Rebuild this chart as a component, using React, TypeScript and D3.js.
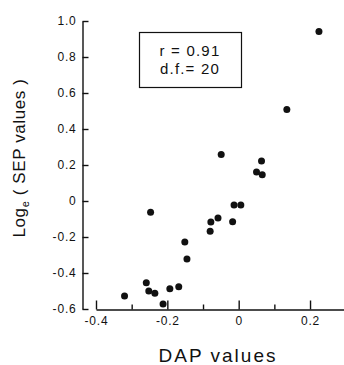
import React, { useEffect, useRef } from 'react';
import * as d3 from 'd3';

// DAP values (x) and log_e SEP values (y)
const dapValues = [
  -0.32, -0.259, -0.252, -0.235, -0.212, -0.247, -0.193, -0.168, -0.151, -0.145, -0.08,
  -0.078, -0.058, -0.049, -0.017, -0.013, 0.006, 0.05, 0.064, 0.066, 0.135, 0.225,
];
const sepValues = [
  -0.528, -0.454, -0.5, -0.513, -0.572, -0.063, -0.487, -0.476, -0.228, -0.322, -0.168,
  -0.117, -0.094, 0.259, -0.115, -0.022, -0.022, 0.161, 0.222, 0.146, 0.509, 0.941,
];
const xMajorTicks = [-0.4, -0.2, 0, 0.2];
const xMinorTicks = [-0.3, -0.1, 0.1];
const yTicks = [-0.6, -0.4, -0.2, 0, 0.2, 0.4, 0.6, 0.8, 1.0];
const statLines = ['r = 0.91', 'd.f.= 20'];

const W = 344;
const H = 365;
const FONT = 'Liberation Sans, Arial, sans-serif';

const fmt = (v: number) => (v === 0 ? '0' : d3.format('.1f')(v).replace('\u2212', '-'));

const App = () => {
  const ref = useRef<SVGSVGElement>(null);

  useEffect(() => {
    const svg = d3.select(ref.current);
    svg.selectAll('*').remove();

    const x = d3.scaleLinear().domain([-0.4, 0.3]).range([96, 345.7]);
    const y = d3.scaleLinear().domain([-0.6, 1.0]).range([309, 21]);

    // y axis, ticks pointing inward
    const gy = svg.append('g').attr('transform', 'translate(82.5,0)')
      .call(d3.axisLeft(y).tickValues(yTicks).tickSizeInner(-6).tickSizeOuter(0)
        .tickPadding(6).tickFormat(d => fmt(+d)));
    gy.selectAll('text').attr('font-size', 12).attr('letter-spacing', 0.8)
      .attr('font-family', FONT).attr('fill', '#111');

    // x axis, major ticks with labels
    const gx = svg.append('g').attr('transform', 'translate(0,309.5)')
      .call(d3.axisBottom(x).tickValues(xMajorTicks).tickSizeInner(-9).tickSizeOuter(0)
        .tickPadding(7).tickFormat(d => fmt(+d)));
    gx.selectAll('text').attr('font-size', 12).attr('letter-spacing', 0.8)
      .attr('font-family', FONT).attr('fill', '#111');
    gx.selectAll('.tick text').attr('y', 7);

    // minor x ticks
    const gm = svg.append('g').attr('transform', 'translate(0,309.5)')
      .call(d3.axisBottom(x).tickValues(xMinorTicks).tickSizeInner(-5).tickSizeOuter(0)
        .tickFormat(() => ''));
    gm.select('.domain').remove();

    svg.selectAll('.domain, .tick line').attr('stroke', '#111').attr('stroke-width', 1.4);

    // points
    svg.append('g').selectAll('circle')
      .data(dapValues.map((d, i) => [d, sepValues[i]]))
      .join('circle')
      .attr('cx', d => x(d[0]))
      .attr('cy', d => y(d[1]))
      .attr('r', 3.5)
      .attr('fill', '#111');

    // stats box
    svg.append('rect')
      .attr('x', 139.5).attr('y', 32.5).attr('width', 102).attr('height', 55)
      .attr('fill', 'none').attr('stroke', '#111').attr('stroke-width', 1.2);
    svg.append('g').selectAll('text')
      .data(statLines)
      .join('text')
      .attr('x', 190)
      .attr('y', (d, i) => 55.5 + i * 18)
      .attr('text-anchor', 'middle')
      .attr('font-family', FONT)
      .attr('font-size', 15)
      .attr('letter-spacing', 1.2)
      .attr('fill', '#111')
      .text(d => d);

    // axis titles
    svg.append('text')
      .attr('x', 218).attr('y', 361.5)
      .attr('text-anchor', 'middle')
      .attr('font-family', FONT).attr('font-size', 19).attr('letter-spacing', 2)
      .attr('fill', '#111')
      .text('DAP values');

    const yt = svg.append('text')
      .attr('transform', 'translate(25,158) rotate(-90)')
      .attr('text-anchor', 'middle')
      .attr('font-family', FONT).attr('font-size', 17).attr('letter-spacing', 0.6)
      .attr('fill', '#111');
    yt.append('tspan').text('Log');
    yt.append('tspan').attr('font-size', 11).attr('dy', 4).text('e');
    yt.append('tspan').attr('dy', -4).text(' ( SEP values )');
  }, []);

  return (
    <svg ref={ref} width={W} height={H}
      style={{ position: 'absolute', left: 0, top: 0, background: '#fff' }} />
  );
};

export default App;
